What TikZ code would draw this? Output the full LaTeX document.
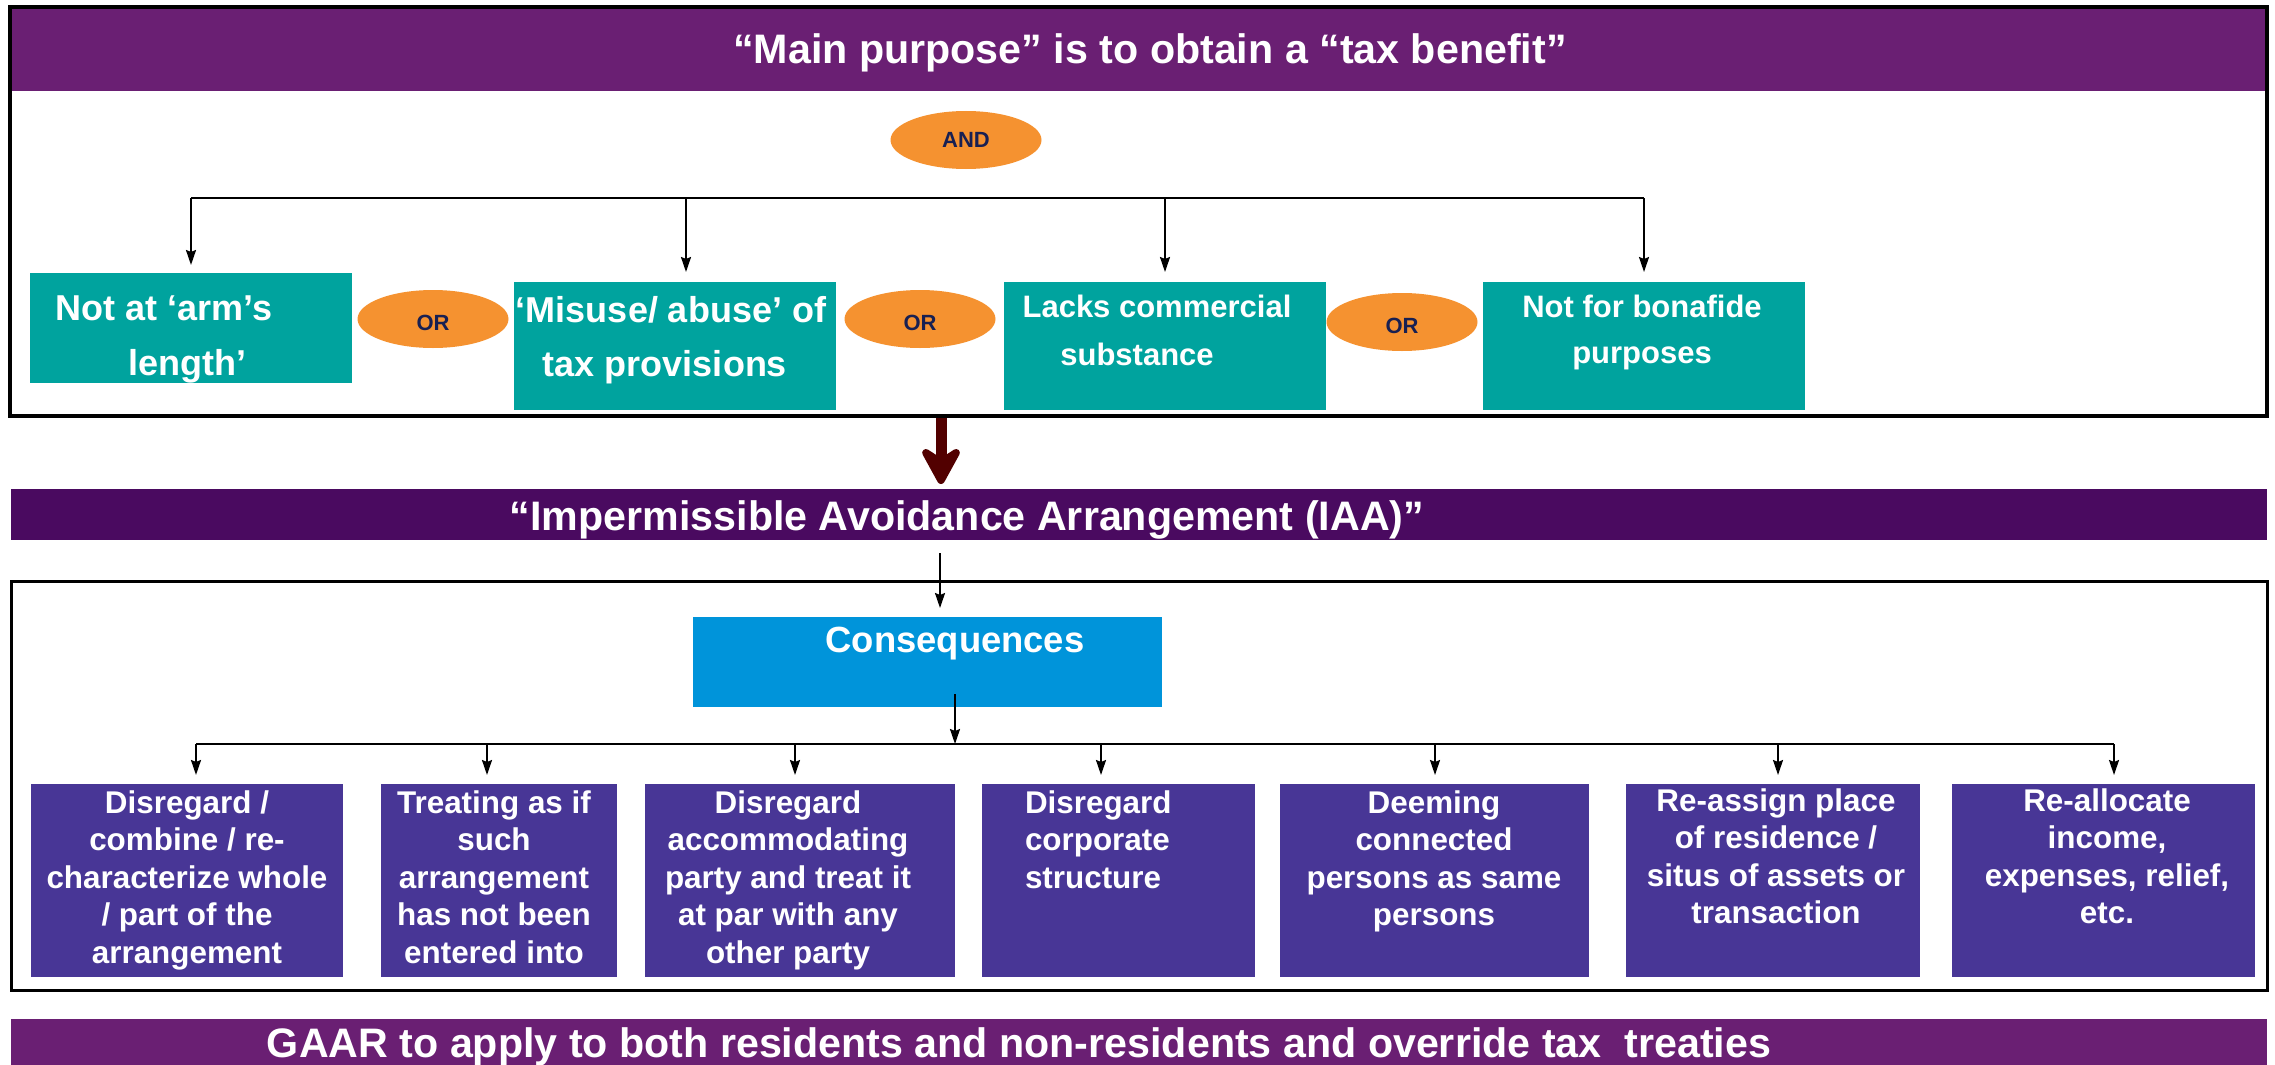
\documentclass[tikz,border=0pt]{standalone}
\usepackage{fontspec}
\setmainfont{Liberation Sans}
\usetikzlibrary{arrows.meta,fit,shapes.geometric}
\definecolor{hdrpurple}{RGB}{106,31,115}
\definecolor{iaapurple}{RGB}{74,10,96}
\definecolor{tealbox}{RGB}{0,163,158}
\definecolor{consblue}{RGB}{0,148,218}
\definecolor{violetbox}{RGB}{72,54,150}
\definecolor{orangeov}{RGB}{245,146,48}
\definecolor{navytext}{RGB}{24,32,82}
\definecolor{maroonarrow}{RGB}{82,0,0}
\begin{document}
\begin{tikzpicture}[x=0.5pt,y=-0.5pt,
  every node/.style={inner sep=0pt, outer sep=0pt},
  hdrtxt/.style={text=white, anchor=base, font=\fontsize{20.6pt}{24pt}\selectfont\bfseries},
  tealtxtL/.style={text=white, anchor=base, font=\fontsize{18pt}{22pt}\selectfont\bfseries},
  tealtxtS/.style={text=white, anchor=base, font=\fontsize{15.5pt}{19pt}\selectfont\bfseries},
  constxt/.style={text=white, anchor=base, font=\fontsize{18.2pt}{22pt}\selectfont\bfseries},
  voltxt/.style={text=white, anchor=base, font=\fontsize{15.7pt}{19pt}\selectfont\bfseries},
  oval/.style={ellipse, fill=orangeov, minimum width=75.5pt, minimum height=29pt, text=navytext, font=\fontsize{11pt}{13pt}\selectfont\bfseries},
  arr/.style={line width=1pt, -{Stealth[length=7.5pt,width=5pt,inset=1pt]}},
  busline/.style={line width=1pt},
  tbox/.style={fill=tealbox},
  vbox/.style={fill=violetbox},
]
\useasboundingbox (0,0) rectangle (2275,1065);

% ---------- top section ----------
\node[fit={(10,8) (2266,91)}, fill=hdrpurple] (hdrbar) {};
\node[fit={(9.5,7) (2267,416)}, draw=black, line width=2pt] (topframe) {};
\node[hdrtxt] (hdrtext) at (1150,64) {“Main purpose” is to obtain a “tax benefit”};

\node[oval] (and) at (966,140) {AND};

\node[fit={(30,273) (352,383)}, tbox] (t1) {};
\node[fit={(514,282) (836,410)}, tbox] (t2) {};
\node[fit={(1004,282) (1326,410)}, tbox] (t3) {};
\node[fit={(1483,282) (1805,410)}, tbox] (t4) {};

\node[oval, text height=12pt] (or1) at (433,319) {OR};
\node[oval, text height=12pt] (or2) at (920,319) {OR};
\node[oval, text height=12pt] (or3) at (1402,322) {OR};

\node[tealtxtL] (t1a) at (164,320) {Not at ‘arm’s};
\node[tealtxtL] (t1b) at (187,375) {length’};
\node[tealtxtL] (t2a) at (671,322) {‘Misuse/ abuse’ of};
\node[tealtxtL] (t2b) at (665,376) {tax provisions};
\node[tealtxtS] (t3a) at (1157,317) {Lacks commercial};
\node[tealtxtS] (t3b) at (1137,365) {substance};
\node[tealtxtS] (t4a) at (1642,317) {Not for bonafide};
\node[tealtxtS] (t4b) at (1642,363) {purposes};

\coordinate (ba) at (191,198);
\coordinate (bb) at (686,198);
\coordinate (bc) at (1165,198);
\coordinate (bd) at (1644,198);
\draw[busline] (ba) -- (bd);
\draw[arr, shorten >=4pt] (ba) -- (ba |- t1.north);
\draw[arr, shorten >=5pt] (bb) -- (bb |- t2.north);
\draw[arr, shorten >=5pt] (bc) -- (bc |- t3.north);
\draw[arr, shorten >=5pt] (bd) -- (bd |- t4.north);

% ---------- IAA ----------
\node[fit={(11,489) (2267,540)}, fill=iaapurple] (iaabar) {};
\node[hdrtxt] (iaatext) at (967,530) {“Impermissible Avoidance Arrangement (IAA)”};

\coordinate (ms) at (941,418);
\draw[maroonarrow, line width=5.5pt, -{Stealth[length=23pt,width=25pt,inset=8pt,round]}, shorten >=2.5pt] (ms) -- (ms |- iaabar.north);

% ---------- consequences ----------
\node[fit={(11,581) (2267,990)}, draw=black, line width=1.5pt] (lowframe) {};
\node[fit={(693,617) (1162,707)}, fill=consblue] (cons) {};
\node[constxt] (constext) at (955,652) {Consequences};

\coordinate (ia) at (940,553);
\draw[arr, shorten >=4.5pt] (ia) -- (ia |- cons.north);

\coordinate (cs) at (955,694);
\coordinate (cb) at (955,744);
\draw[arr] (cs) -- (cb);

\node[fit={(31,784) (343,977)}, vbox] (p1) {};
\node[fit={(381,784) (617,977)}, vbox] (p2) {};
\node[fit={(645,784) (955,977)}, vbox] (p3) {};
\node[fit={(982,784) (1255,977)}, vbox] (p4) {};
\node[fit={(1280,784) (1589,977)}, vbox] (p5) {};
\node[fit={(1626,784) (1920,977)}, vbox] (p6) {};
\node[fit={(1952,784) (2255,977)}, vbox] (p7) {};

\foreach \n/\x in {1/196,2/487,3/795,4/1101,5/1435,6/1778,7/2114}
  \coordinate (q\n) at (\x,744);
\draw[busline] (q1) -- (q7);
\foreach \n in {1,...,7}
  \draw[arr, shorten >=4.5pt] (q\n) -- (q\n |- p\n.north);

\foreach \txt [count=\i] in {Disregard /, combine / re-, characterize whole, / part of the, arrangement}
  \node[voltxt] (pa\i) at (187,{813+37.5*(\i-1)}) {\txt};
\foreach \txt [count=\i] in {Treating as if, such, arrangement, has not been, entered into}
  \node[voltxt] (pb\i) at (494,{813+37.5*(\i-1)}) {\txt};
\foreach \txt [count=\i] in {Disregard, accommodating, party and treat it, at par with any, other party}
  \node[voltxt] (pc\i) at (788,{813+37.5*(\i-1)}) {\txt};
\foreach \txt [count=\i] in {Disregard, corporate, structure}
  \node[voltxt, anchor=base west] (pd\i) at (1025,{813+37.5*(\i-1)}) {\txt};
\foreach \txt [count=\i] in {Deeming, connected, persons as same, persons}
  \node[voltxt] (pe\i) at (1434,{813+37.5*(\i-1)}) {\txt};
\foreach \txt [count=\i] in {Re-assign place, of residence /, situs of assets or, transaction}
  \node[voltxt] (pf\i) at (1776,{811+37.5*(\i-1)}) {\txt};
\foreach \txt [count=\i] in {Re-allocate, {income,}, {expenses, relief,}, etc.}
  \node[voltxt] (pg\i) at (2107,{811+37.5*(\i-1)}) {\txt};

% ---------- GAAR ----------
\node[fit={(11,1019) (2267,1066)}, fill=hdrpurple] (gaarbar) {};
\node[hdrtxt] (gaartext) at (1019,1057) {GAAR to apply to both residents and non-residents and override tax\ \ treaties};
\end{tikzpicture}
\end{document}
